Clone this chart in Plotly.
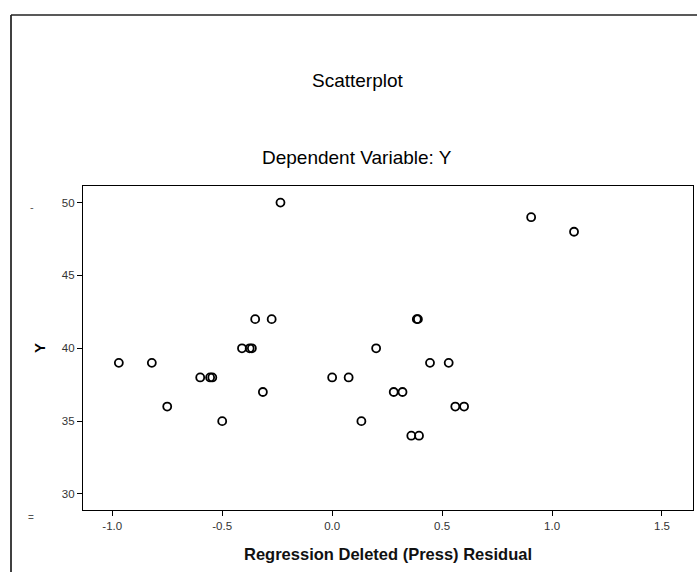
import plotly.graph_objects as go

# Data
press_residual = [-0.97, -0.82, -0.75, -0.60, -0.555, -0.545, -0.50, -0.41, -0.375, -0.365,
                  -0.35, -0.315, -0.275, -0.235, 0.0, 0.075, 0.133, 0.20, 0.28, 0.32,
                  0.36, 0.395, 0.385, 0.39, 0.445, 0.53, 0.56, 0.60, 0.905, 1.10]
y_values = [39, 39, 36, 38, 38, 38, 35, 40, 40, 40,
            42, 37, 42, 50, 38, 38, 35, 40, 37, 37,
            34, 34, 42, 42, 39, 39, 36, 36, 49, 48]

x_ticks = [-1.0, -0.5, 0.0, 0.5, 1.0, 1.5]
x_tick_labels = ["-1.0", "-0.5", "0.0", "0.5", "1.0", "1.5"]
y_ticks = [30, 35, 40, 45, 50]
y_tick_labels = ["30", "35", "40", "45", "50"]

W, H = 697, 572
L, R, T, B = 83, 693, 186, 510  # plot area bounds in page pixels
pw, ph = R - L, B - T

def px(xp):
    return (xp - L) / pw

def py(yp):
    return (B - yp) / ph

fig = go.Figure()
fig.add_trace(go.Scatter(
    x=press_residual, y=y_values, mode="markers",
    marker=dict(symbol="circle-open", size=8, color="black", line=dict(width=1.8, color="black")),
    showlegend=False, hoverinfo="x+y",
))

font = "Liberation Sans, Arial, sans-serif"

fig.update_layout(
    width=W, height=H,
    margin=dict(l=L, r=W - R, t=T, b=H - B, pad=0),
    paper_bgcolor="white", plot_bgcolor="white",
    font=dict(family=font, color="black"),
    xaxis=dict(range=[-1.133, 1.641], tickvals=x_ticks, ticktext=x_tick_labels,
               showgrid=False, zeroline=False, showline=True, linecolor="black", linewidth=1.2,
               mirror=True, ticks="outside", ticklen=5, tickwidth=1.2, tickcolor="black",
               tickfont=dict(size=11.5, color="#333333", family=font),
               title=dict(text="<b>Regression Deleted (Press) Residual</b>",
                          font=dict(size=16.5, family=font, color="#111111"), standoff=17)),
    yaxis=dict(range=[28.9, 51.14], tickvals=y_ticks, ticktext=y_tick_labels,
               showgrid=False, zeroline=False, showline=True, linecolor="black", linewidth=1.2,
               mirror=True, ticks="outside", ticklen=5, tickwidth=1.2, tickcolor="black",
               tickfont=dict(size=11.5, color="#333333", family=font),
               title=dict(text="<b>Y</b>", font=dict(size=15, family=font), standoff=12)),
    annotations=[
        dict(text="Scatterplot", x=px(358), y=py(81), xref="paper", yref="paper",
             showarrow=False, font=dict(size=19, family=font, color="black"),
             xanchor="center", yanchor="middle"),
        dict(text="Dependent Variable: Y", x=px(357), y=py(157), xref="paper", yref="paper",
             showarrow=False, font=dict(size=19, family=font, color="black"),
             xanchor="center", yanchor="middle"),
        dict(text="-", x=px(32), y=py(207), xref="paper", yref="paper",
             showarrow=False, font=dict(size=11, family=font, color="#555555"),
             xanchor="center", yanchor="middle"),
        dict(text="=", x=px(31), y=py(517), xref="paper", yref="paper",
             showarrow=False, font=dict(size=10, family=font, color="#555555"),
             xanchor="center", yanchor="middle"),
    ],
    shapes=[
        dict(type="line", xref="paper", yref="paper", x0=px(11), x1=px(11), y0=py(15),
             y1=py(H), line=dict(color="black", width=1.5)),
        dict(type="line", xref="paper", yref="paper", x0=px(11), x1=px(W), y0=py(15),
             y1=py(15), line=dict(color="#222222", width=1.5)),
    ],
)

fig.write_html(
    "out.html",
    config={"displayModeBar": False},
    post_script="document.body.style.margin='0';document.body.style.overflow='hidden';",
)
